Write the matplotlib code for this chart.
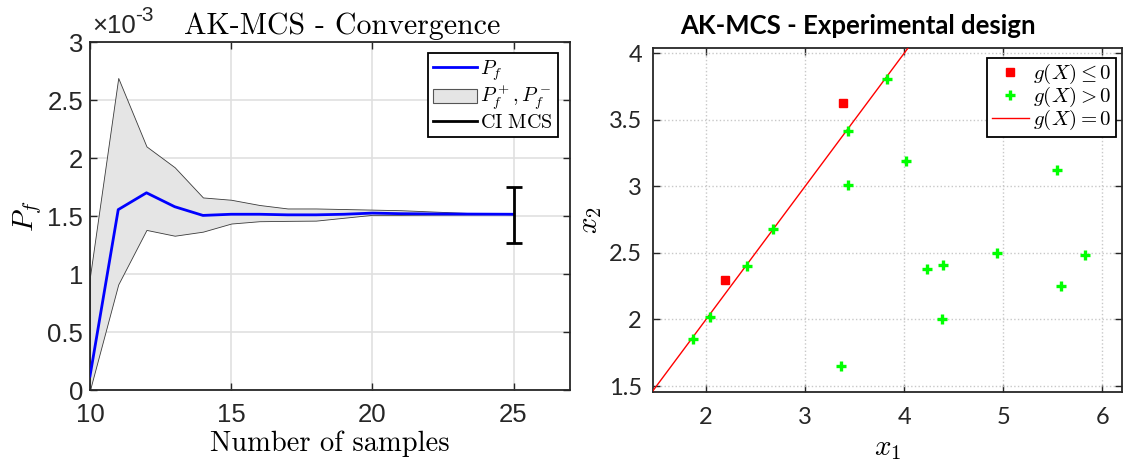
import numpy as np
import matplotlib
matplotlib.use("Agg")
import matplotlib.pyplot as plt
from matplotlib.lines import Line2D
from matplotlib.patches import Patch
from matplotlib.ticker import FuncFormatter

plt.rcParams['mathtext.fontset'] = 'cm'

# convergence data (Pf in units of 1e-3)
n_samples = [10, 11, 12, 13, 14, 15, 16, 17, 18, 19, 20, 21, 22, 23, 24, 25]
pf = [0.12, 1.555, 1.70, 1.58, 1.505, 1.515, 1.515, 1.51, 1.51, 1.515, 1.525, 1.52, 1.518, 1.517, 1.516, 1.515]
pf_plus = [0.98, 2.69, 2.10, 1.92, 1.66, 1.64, 1.595, 1.565, 1.565, 1.56, 1.555, 1.55, 1.54, 1.53, 1.52, 1.515]
pf_minus = [0.0, 0.91, 1.38, 1.33, 1.365, 1.435, 1.455, 1.458, 1.46, 1.485, 1.51, 1.51, 1.512, 1.513, 1.514, 1.515]
ci_mcs_x = 25
ci_mcs = [1.27, 1.515, 1.75]   # lower, mean, upper

# experimental design
fail_x1 = [2.19, 3.38]
fail_x2 = [2.30, 3.63]
safe_x1 = [1.87, 2.04, 2.41, 2.68, 3.43, 3.43, 3.83, 4.02, 3.36, 4.23, 4.39, 4.38, 4.94, 5.54, 5.58, 5.83]
safe_x2 = [1.85, 2.02, 2.40, 2.68, 3.42, 3.01, 3.81, 3.19, 1.65, 2.38, 2.41, 2.005, 2.50, 3.12, 2.25, 2.485]
lsf_x1 = [1.0, 4.5]
lsf_x2 = [1.0, 4.5]

edge = '#262626'

fig = plt.figure(figsize=(11.24, 4.63), dpi=100)

# ---------------- left: convergence ----------------
ax1 = fig.add_axes([90/1124, 73/463, 480/1124, 348/463])
ax1.fill_between(n_samples, pf_minus, pf_plus, facecolor='#e5e5e5', edgecolor='#3a3a3a', lw=0.6, zorder=2)
ax1.plot(n_samples, pf, color='#0000ff', lw=2.0, zorder=3)
ax1.errorbar([ci_mcs_x], [ci_mcs[1]], yerr=[[ci_mcs[1]-ci_mcs[0]], [ci_mcs[2]-ci_mcs[1]]],
             fmt='none', ecolor='black', elinewidth=2.0, capsize=5.5, capthick=2.0, zorder=4)
ax1.set_xlim(10, 27)
ax1.set_ylim(0, 3)
ax1.set_xticks([10, 15, 20, 25])
ax1.set_yticks([0, 0.5, 1, 1.5, 2, 2.5, 3])
ax1.yaxis.set_major_formatter(FuncFormatter(lambda v, _: f'{v:g}'))
ax1.grid(True, color='#e0e0e0', lw=1.2)
ax1.set_axisbelow(True)
for lab in ax1.get_xticklabels() + ax1.get_yticklabels():
    lab.set_fontfamily('Liberation Sans')
    lab.set_fontsize(18.5)
ax1.tick_params(direction='in', top=True, right=True, length=5, width=1, colors=edge)
ax1.tick_params(axis='x', pad=9)
ax1.tick_params(axis='y', pad=5)
for s in ax1.spines.values():
    s.set_color(edge)
    s.set_linewidth(1.3)
fig.text(92/1124, 430/463, '×10', fontfamily='Liberation Sans', fontsize=18.5, color=edge,
         ha='left', va='baseline')
fig.text(135/1124, 442/463, '-3', fontfamily='Liberation Sans', fontsize=15, color=edge,
         ha='left', va='baseline')
ax1.set_title('AK-MCS - Convergence', fontfamily='cmr10', fontsize=21.5, pad=6, x=0.525)
ax1.set_xlabel('Number of samples', fontfamily='cmr10', fontsize=20.5, labelpad=3)
ax1.set_ylabel(r'$P_f$', fontsize=21, labelpad=2)

h1 = [Line2D([], [], color='#0000ff', lw=2.0),
      Patch(facecolor='#e5e5e5', edgecolor='#555555', lw=0.8),
      Line2D([], [], color='black', lw=2.0)]
l1 = [r'$P_f$', r'$P_f^+, P_f^-$', r'$\mathrm{CI\ MCS}$']
leg1 = ax1.legend(h1, l1, loc='upper right', bbox_to_anchor=(0.975, 0.968), borderaxespad=0,
                  fontsize=14.5, fancybox=False, framealpha=1, edgecolor='black',
                  handlelength=2.2, handletextpad=0.15, labelspacing=0.0, borderpad=0.25)
leg1.get_frame().set_linewidth(1.3)

# ---------------- right: experimental design ----------------
ax2 = fig.add_axes([653/1124, 71/463, 469/1124, 344/463])
ax2.plot(fail_x1, fail_x2, 's', color='#ff0000', ms=6.3, zorder=4, label=r'$g(X)\leq 0$')
ax2.plot(safe_x1, safe_x2, '+', color='#00ff00', ms=6.5, mew=2.4, zorder=4, label=r'$g(X)>0$')
ax2.plot(lsf_x1, lsf_x2, '-', color='#ff0000', lw=1.0, zorder=3, label=r'$g(X)=0$')
ax2.set_xlim(1.465, 6.2)
ax2.set_ylim(1.455, 4.04)
ax2.set_xticks([2, 3, 4, 5, 6])
ax2.set_yticks([1.5, 2, 2.5, 3, 3.5, 4])
ax2.yaxis.set_major_formatter(FuncFormatter(lambda v, _: f'{v:g}'))
ax2.grid(True, color='#c8c8c8', lw=1.0, ls=':')
ax2.set_axisbelow(True)
for lab in ax2.get_xticklabels() + ax2.get_yticklabels():
    lab.set_fontfamily('Lato')
    lab.set_fontsize(17)
ax2.tick_params(direction='in', top=True, right=True, length=5, width=1, colors=edge)
ax2.tick_params(axis='x', pad=11)
ax2.tick_params(axis='y', pad=8)
for s in ax2.spines.values():
    s.set_color(edge)
    s.set_linewidth(1.3)
ax2.text(0.436, 1.041, 'AK-MCS - Experimental design', transform=ax2.transAxes,
         fontfamily='Lato', fontweight='bold', fontsize=18.5, ha='center', va='baseline')
ax2.set_xlabel(r'$x_1$', fontsize=21, labelpad=4)
ax2.set_ylabel(r'$x_2$', fontsize=21, labelpad=3)
leg2 = ax2.legend(loc='upper right', bbox_to_anchor=(0.987, 0.971), borderaxespad=0,
                  fontsize=15, fancybox=False, framealpha=1, edgecolor='black',
                  handlelength=1.8, handletextpad=0.2, labelspacing=-0.05, borderpad=0.2)
leg2.get_frame().set_linewidth(1.3)

fig.savefig('out.png', dpi=100)
